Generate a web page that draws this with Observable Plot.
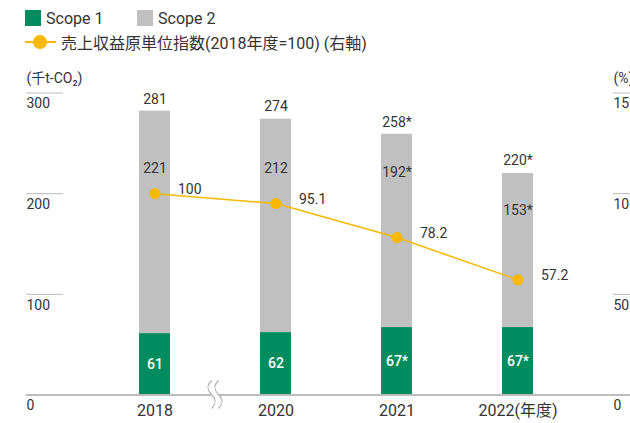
<!DOCTYPE html>
<html>
<head>
<meta charset="utf-8">
<script src="https://cdn.jsdelivr.net/npm/d3@7"></script>
<script src="https://cdn.jsdelivr.net/npm/@observablehq/plot@0.6"></script>
<style>
  html, body { margin: 0; padding: 0; background: #fff; }
  body { width: 630px; height: 423px; overflow: hidden; font-family: Roboto, "Noto Sans CJK JP", sans-serif; color: #333; }
  #legend { position: relative; height: 60px; font-size: 16px; }
  .item { position: absolute; display: flex; align-items: center; white-space: nowrap; }
  .sw { width: 16px; height: 16px; margin-right: 5px; }
  .ln { position: relative; width: 31px; height: 16px; margin-right: 5px; }
  .ln::before { content: ""; position: absolute; left: 0; right: 0; top: 7px; height: 2px; background: #f6b800; }
  .ln::after { content: ""; position: absolute; left: 8px; top: 1px; width: 14px; height: 14px; border-radius: 50%; background: #f6b800; }
  svg { display: block; overflow: visible; }
</style>
</head>
<body>
<div id="legend"></div>
<div id="chart"></div>
<script>
const years = ["2018", "2020", "2021", "2022"];
const yearLabels = ["2018", "2020", "2021", "2022(年度)"];
const scope1 = [61, 62, 67, 67];
const scope2 = [221, 212, 192, 153];
const totals = [281, 274, 258, 220];
const verified = [false, false, true, true];
const intensity = [100, 95.1, 78.2, 57.2];
const leftTicks = [0, 100, 200, 300];
const rightTicks = [0, 50, 100, 150];
const seriesNames = ["Scope 1", "Scope 2"];
const lineName = "売上収益原単位指数(2018年度=100) (右軸)";
const colors = { "Scope 1": "#008c5e", "Scope 2": "#bfc0bf" };
const lineColor = "#f6b800";
const textColor = "#333";

// Legend
const legend = document.getElementById("legend");
const legendItems = [
  { html: `<div class="sw" style="background:${colors["Scope 1"]}"></div>${seriesNames[0]}`, left: 25, top: 10 },
  { html: `<div class="sw" style="background:${colors["Scope 2"]}"></div>${seriesNames[1]}`, left: 137, top: 10 },
  { html: `<div class="ln"></div>${lineName}`, left: 25, top: 34 }
];
for (const it of legendItems) {
  const d = document.createElement("div");
  d.className = "item";
  d.style.left = it.left + "px";
  d.style.top = it.top + "px";
  d.style.height = "16px";
  d.innerHTML = it.html;
  legend.appendChild(d);
}

const star = (v, i) => verified[i] ? v + "*" : String(v);
const bars = [];
years.forEach((y, i) => {
  bars.push({ year: y, scope: seriesNames[0], value: scope1[i] });
  bars.push({ year: y, scope: seriesNames[1], value: scope2[i] });
});
const rows = years.map((y, i) => ({
  year: y, s1: scope1[i], s2: scope2[i], total: totals[i], idx: intensity[i],
  s1Label: star(scope1[i], i), s2Label: star(scope2[i], i), totalLabel: star(totals[i], i),
  yearLabel: yearLabels[i]
}));

const W = 630, H = 363, ML = 94, MR = 52, MT = 32.5, MB = 28.5;
const leftX = 26, leftX2 = 63, rightX = 613;
const dxL = leftX - ML;            // shift from left frame edge to left axis column
const dxR = rightX - (W - MR);     // shift from right frame edge to right axis column

const breakMark = (index, scales) => {
  const x = scales.x, y = scales.y;
  const step = x(years[2]) - x(years[1]);
  const bx = x(years[0]) + step; // boundary between first two bands
  const by = y(0);
  const g = d3.create("svg:g");
  g.append("rect").attr("x", bx - 4).attr("y", by - 3).attr("width", 8).attr("height", 6).attr("fill", "#fff");
  for (const cx of [bx - 3.5, bx + 3.5]) {
    g.append("path")
      .attr("d", `M${cx},${by - 14} c-5,5 -5,9 0,14 c5,5 5,9 0,14`)
      .attr("fill", "none").attr("stroke", "#aaa").attr("stroke-width", 1.2);
  }
  return g.node();
};

const chart = Plot.plot({
  width: W, height: H,
  marginLeft: ML, marginRight: MR, marginTop: MT, marginBottom: MB,
  style: { fontFamily: 'Roboto, "Noto Sans CJK JP", sans-serif', color: textColor, background: "transparent", overflow: "visible" },
  x: { domain: years, padding: 0, axis: null },
  y: { domain: [0, 300], axis: null },
  color: { domain: seriesNames, range: seriesNames.map(s => colors[s]) },
  marks: [
    // left short gridlines
    Plot.ruleY(leftTicks.filter(d => d > 0), { y: d => d, dx: dxL, insetLeft: 0, insetRight: (W - MR) + dxL - leftX2, stroke: "#bbb", strokeWidth: 1 }),
    // right short gridlines
    Plot.ruleY(leftTicks.filter(d => d > 0), { y: d => d, insetLeft: rightX - ML, insetRight: -MR, stroke: "#bbb", strokeWidth: 1 }),
    // bars
    Plot.barY(bars, { x: "year", y: "value", fill: "scope", insetLeft: 45, insetRight: 45 }),
    // baseline
    Plot.ruleY([0], { insetLeft: dxL, insetRight: -MR, stroke: "#bdbdbd", strokeWidth: 1.8 }),
    breakMark,
    // left tick labels
    Plot.text(leftTicks, { y: d => d, text: d => String(d), frameAnchor: "left", dx: dxL, dy: 11, textAnchor: "start", lineAnchor: "middle", fontSize: 14, fill: textColor }),
    // right tick labels (right axis values map to y = 2 * v)
    Plot.text(rightTicks, { y: d => d * 2, text: d => String(d), frameAnchor: "right", dx: dxR, dy: 11, textAnchor: "start", lineAnchor: "middle", fontSize: 14, fill: textColor }),
    // axis units
    Plot.text(["(千t-CO₂)"], { frameAnchor: "top-left", dx: dxL, dy: -14.5, textAnchor: "start", lineAnchor: "middle", fontSize: 14, fill: textColor }),
    Plot.text(["(%)"], { frameAnchor: "top-right", dx: dxR, dy: -14.5, textAnchor: "start", lineAnchor: "middle", fontSize: 14, fill: textColor }),
    // year labels
    Plot.text(rows, { x: "year", text: "yearLabel", frameAnchor: "bottom", dy: 15.5, lineAnchor: "middle", fontSize: 16, fill: textColor }),
    // labels
    Plot.text(rows, { x: "year", y: d => d.s1 / 2, text: "s1Label", fill: "#fff", fontSize: 14, fontWeight: 500 }),
    Plot.text(rows, { x: "year", y: d => Math.min(225, d.total - 37), text: "s2Label", fill: textColor, fontSize: 14 }),
    Plot.text(rows, { x: "year", y: "total", text: "totalLabel", dy: -13, fill: textColor, fontSize: 14 }),
    // intensity line on right axis (0-150 -> 0-300)
    Plot.line(rows, { x: "year", y: d => d.idx * 2, stroke: lineColor, strokeWidth: 1.5 }),
    Plot.dot(rows, { x: "year", y: d => d.idx * 2, r: 5.5, fill: lineColor }),
    Plot.text(rows, { x: "year", y: d => d.idx * 2, text: d => String(d.idx), dx: 23, dy: -4, textAnchor: "start", fill: textColor, fontSize: 14 })
  ]
});
document.getElementById("chart").appendChild(chart);
</script>
</body>
</html>
